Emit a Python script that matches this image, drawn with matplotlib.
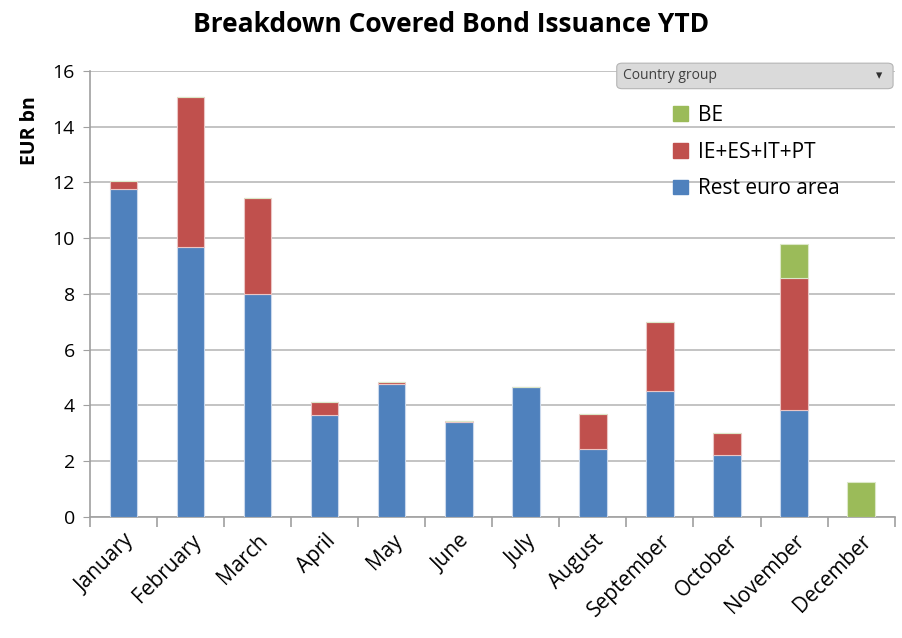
import matplotlib.pyplot as plt
import numpy as np
from matplotlib.patches import FancyBboxPatch, Patch

plt.rcParams['font.family'] = ['Liberation Sans Narrow', 'Open Sans', 'DejaVu Sans']

# Monthly covered bond issuance, EUR bn
months = ['January', 'February', 'March', 'April', 'May', 'June',
          'July', 'August', 'September', 'October', 'November', 'December']
rest_euro = [11.76, 9.68, 8.0, 3.66, 4.76, 3.40, 4.67, 2.44, 4.52, 2.20, 3.83, 0.0]
periphery = [0.28, 5.37, 3.43, 0.46, 0.08, 0.03, 0.0, 1.25, 2.47, 0.80, 4.72, 0.0]
be = [0.0, 0.0, 0.0, 0.0, 0.0, 0.0, 0.0, 0.0, 0.0, 0.0, 1.23, 1.23]

blue = '#4F81BD'
red = '#C0504D'
green = '#9BBB59'

fig = plt.figure(figsize=(9.03, 6.38), dpi=100)
ax = fig.add_axes([0.0997, 0.19, 0.891, 0.699])

x = np.arange(len(months))
w = 0.41
ax.bar(x, rest_euro, w, color=blue, edgecolor='#C9D8EC', linewidth=0.8, zorder=3)
ax.bar(x, periphery, w, bottom=rest_euro, color=red, edgecolor='#EBC5C4', linewidth=0.8, zorder=3)
bottom2 = np.array(rest_euro) + np.array(periphery)
ax.bar(x, be, w, bottom=bottom2, color=green, edgecolor='#DCE8C8', linewidth=0.8, zorder=3)

ax.set_xlim(-0.5, len(months) - 0.5)
ax.set_ylim(0, 16)
ax.set_yticks(np.arange(0, 17, 2))
ax.tick_params(axis='y', labelsize=14, length=5, color='#A0A0A0', pad=6)
ax.yaxis.grid(True, color='#BEBEBE', linewidth=1.3, zorder=0)

ax.set_xticks(x)
ax.set_xticklabels(months, rotation=45, ha='right', rotation_mode='anchor', fontsize=15)
ax.tick_params(axis='x', length=0, pad=10)
ax.set_xticks(np.arange(-0.5, len(months), 1), minor=True)
ax.tick_params(axis='x', which='minor', length=7, color='#A0A0A0', width=1.2)

for s in ['top', 'right']:
    ax.spines[s].set_visible(False)
for s in ['left', 'bottom']:
    ax.spines[s].set_color('#A0A0A0')
    ax.spines[s].set_linewidth(1.2)

ax.set_ylabel('EUR bn', fontsize=14, fontweight='bold')
ax.yaxis.set_label_coords(-0.062, 0.865)

fig.text(0.5, 0.962, 'Breakdown Covered Bond Issuance YTD', ha='center', va='center',
         fontsize=19, fontweight='bold')

# field button of the pivot chart
box = FancyBboxPatch((0.685, 0.863), 0.302, 0.036, boxstyle='round,pad=0.002,rounding_size=0.006',
                     transform=fig.transFigure, facecolor='#DADADA', edgecolor='#B5B5B5',
                     linewidth=0.8, zorder=1)
fig.patches.append(box)
fig.text(0.690, 0.881, 'Country group', fontsize=10, color='#404040', va='center', ha='left',
         zorder=6)
fig.text(0.973, 0.881, '\u25BE', fontsize=9, color='#303030', va='center', ha='center',
         family='DejaVu Sans', zorder=6)

handles = [Patch(color=green, label='BE'),
           Patch(color=red, label='IE+ES+IT+PT'),
           Patch(color=blue, label='Rest euro area')]
leg = fig.legend(handles=handles, loc='upper left', bbox_to_anchor=(0.725, 0.865),
                 frameon=False, fontsize=15, handlelength=0.7, handleheight=0.7,
                 handletextpad=0.5, labelspacing=0.75)

fig.savefig('out.png', dpi=100)
